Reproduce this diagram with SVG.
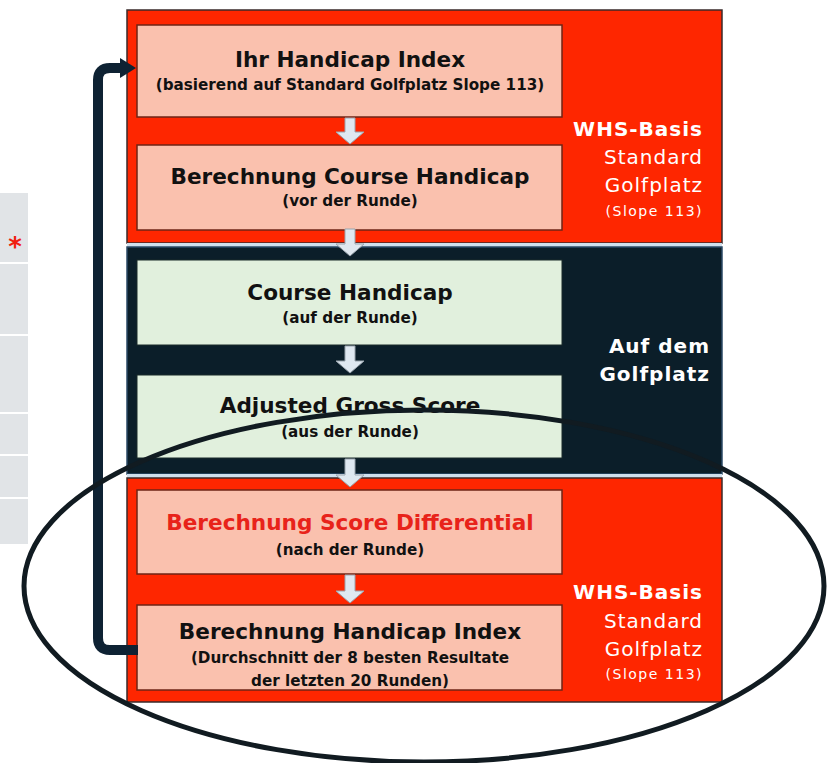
<svg xmlns="http://www.w3.org/2000/svg" width="830" height="763" viewBox="0 0 830 763">
<style>
.panelR{fill:#fe2600;stroke:#3a2a2a;stroke-width:1.5}
.panelD{fill:#0b1e29;stroke:#2b4a66;stroke-width:1.5}
.boxR{fill:#fac1ae;stroke:#6e2416;stroke-width:1.5}
.boxG{fill:#e1f0dd;stroke:#1a2a2a;stroke-width:1}
.t{font-family:"DejaVu Sans","Liberation Sans",sans-serif;font-weight:bold;font-size:21.6px;fill:#111;text-anchor:middle}
.s{font-family:"DejaVu Sans","Liberation Sans",sans-serif;font-weight:bold;font-size:15.2px;fill:#111;text-anchor:middle}
.w{font-family:"DejaVu Sans","Liberation Sans",sans-serif;font-size:20px;fill:#fff;text-anchor:end;letter-spacing:1px}
.wb{font-weight:bold}
.ws{font-size:14px;letter-spacing:1.5px}
.arr{fill:#dfe8f0;stroke:#9aa4ad;stroke-width:1}
</style>
<defs>
<marker id="ah" viewBox="0 0 10 10" refX="0" refY="5" markerWidth="1.6" markerHeight="2" orient="auto" markerUnits="strokeWidth" preserveAspectRatio="none">
<path d="M0,0 L10,5 L0,10 z" fill="#0e2233"/>
</marker>
</defs>

<g id="sidebar">
<rect x="0" y="193" width="28" height="351" fill="#e1e4e7"/>
<g stroke="#fff" stroke-width="2">
<line x1="0" y1="263" x2="28" y2="263"/>
<line x1="0" y1="335" x2="28" y2="335"/>
<line x1="0" y1="413" x2="28" y2="413"/>
<line x1="0" y1="455" x2="28" y2="455"/>
<line x1="0" y1="498" x2="28" y2="498"/>
</g>
<text x="15" y="256" font-family="DejaVu Sans,sans-serif" font-weight="bold" font-size="26" fill="#f02010" text-anchor="middle">*</text>
</g>

<g id="panel-top">
<rect class="panelR" x="127" y="10" width="595" height="233"/>
<text class="w wb" x="703" y="136">WHS-Basis</text>
<text class="w" x="703" y="164">Standard</text>
<text class="w" x="703" y="192">Golfplatz</text>
<text class="w ws" x="703" y="216">(Slope 113)</text>
</g>
<rect x="127" y="243" width="595" height="4" fill="#cfe0ee"/>
<g id="panel-mid">
<rect class="panelD" x="127" y="247" width="595" height="227"/>
<text class="w wb" x="710" y="353">Auf dem</text>
<text class="w wb" x="710" y="381">Golfplatz</text>
</g>
<rect x="127" y="474" width="595" height="4" fill="#cfe0ee"/>
<g id="panel-bottom">
<rect class="panelR" x="127" y="478" width="595" height="224"/>
<text class="w wb" x="703" y="599">WHS-Basis</text>
<text class="w" x="703" y="628">Standard</text>
<text class="w" x="703" y="656">Golfplatz</text>
<text class="w ws" x="703" y="679">(Slope 113)</text>
</g>

<g id="n1">
<rect class="boxR" x="137" y="25" width="425" height="92"/>
<text class="t" x="350" y="67">Ihr Handicap Index</text>
<text class="s" x="350" y="90">(basierend auf Standard Golfplatz Slope 113)</text>
</g>
<g id="n2">
<rect class="boxR" x="137" y="145" width="425" height="85"/>
<text class="t" x="350" y="184">Berechnung Course Handicap</text>
<text class="s" x="350" y="206">(vor der Runde)</text>
</g>
<g id="n3">
<rect class="boxG" x="137" y="260" width="425" height="85"/>
<text class="t" x="350" y="300">Course Handicap</text>
<text class="s" x="350" y="323">(auf der Runde)</text>
</g>
<g id="n4">
<rect class="boxG" x="137" y="375" width="425" height="83"/>
<text class="t" x="350" y="413">Adjusted Gross Score</text>
<text class="s" x="350" y="437">(aus der Runde)</text>
</g>
<g id="n5">
<rect class="boxR" x="137" y="490" width="425" height="84"/>
<text class="t" x="350" y="530" style="fill:#e8231a">Berechnung Score Differential</text>
<text class="s" x="350" y="555">(nach der Runde)</text>
</g>
<g id="n6">
<rect class="boxR" x="137" y="605" width="425" height="85"/>
<text class="t" x="350" y="639">Berechnung Handicap Index</text>
<text class="s" x="350" y="663">(Durchschnitt der 8 besten Resultate</text>
<text class="s" x="350" y="686">der letzten 20 Runden)</text>
</g>

<g id="connectors">
<path class="arr" d="M345,118 H355 V132 H364 L350,144 L336,132 H345 Z"/>
<path class="arr" d="M345,229 H355 V244 H364 L350,256 L336,244 H345 Z"/>
<path class="arr" d="M345,346 H355 V361 H364 L350,373 L336,361 H345 Z"/>
<path class="arr" d="M345,459 H355 V475 H364 L350,487 L336,475 H345 Z"/>
<path class="arr" d="M345,575 H355 V591 H364 L350,603 L336,591 H345 Z"/>
<path d="M138,650 H110 Q98,650 98,638 V80 Q98,68 110,68 H120" fill="none" stroke="#0e2233" stroke-width="10" marker-end="url(#ah)"/>
<ellipse cx="424" cy="586" rx="400" ry="176" fill="none" stroke="#111b21" stroke-width="5"/>
</g>
</svg>
